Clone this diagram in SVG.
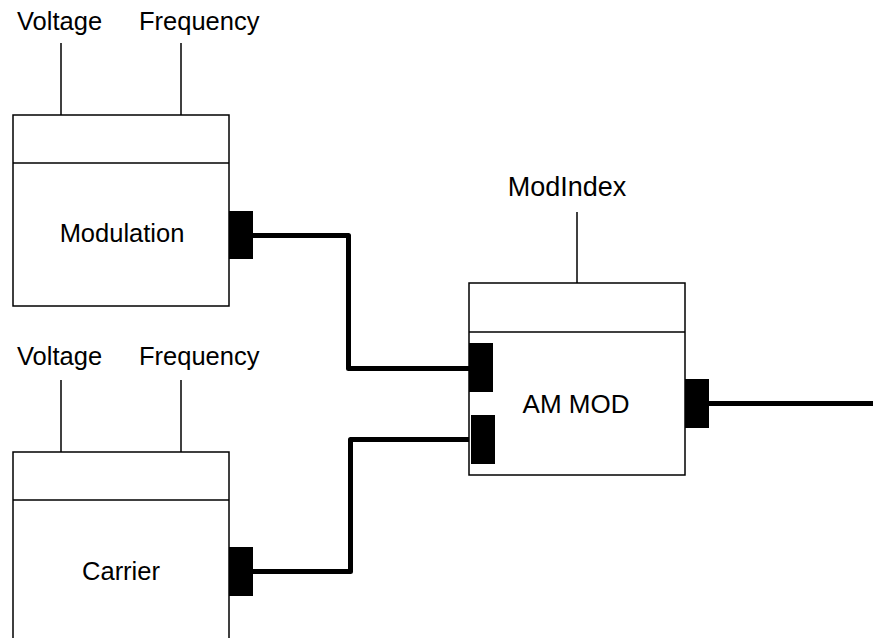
<svg xmlns="http://www.w3.org/2000/svg" width="873" height="638" viewBox="0 0 873 638">
<style>
.box{fill:#fff;stroke:#000;stroke-width:1.5}
.pin{stroke:#000;stroke-width:1.5}
.port{fill:#000}
.wire{fill:none;stroke:#000;stroke-width:5;stroke-linejoin:round}
text{font-family:"Liberation Sans",Arial,sans-serif;font-size:25.5px;fill:#000}
.c{text-anchor:middle}
</style>
<rect width="873" height="638" fill="#fff"/>
<g id="connectors">
<polyline class="wire" points="253,235.5 348.5,235.5 348.5,368.5 469,368.5"/>
<polyline class="wire" points="253,571.5 350.5,571.5 350.5,439.5 471,439.5"/>
<line class="wire" x1="709" y1="403.5" x2="873" y2="403.5"/>
</g>
<g id="modulation">
<line class="pin" x1="61" y1="43" x2="61" y2="115"/>
<line class="pin" x1="181" y1="43" x2="181" y2="115"/>
<text x="17" y="30">Voltage</text>
<text x="139" y="30">Frequency</text>
<rect class="box" x="13" y="115" width="216" height="191"/>
<line class="pin" x1="13" y1="163" x2="229" y2="163"/>
<text class="c" x="122" y="242">Modulation</text>
<rect class="port" x="229" y="211" width="24" height="48"/>
</g>
<g id="carrier">
<line class="pin" x1="61" y1="380" x2="61" y2="452"/>
<line class="pin" x1="181" y1="380" x2="181" y2="452"/>
<text x="17" y="365">Voltage</text>
<text x="139" y="365">Frequency</text>
<rect class="box" x="13" y="452" width="216" height="191"/>
<line class="pin" x1="13" y1="500" x2="229" y2="500"/>
<text class="c" x="121" y="580">Carrier</text>
<rect class="port" x="229" y="547" width="24" height="49"/>
</g>
<g id="ammod">
<line class="pin" x1="577" y1="212" x2="577" y2="283"/>
<text class="c" x="567" y="196" style="font-size:27px">ModIndex</text>
<rect class="box" x="469" y="283" width="216" height="192"/>
<line class="pin" x1="469" y1="332" x2="685" y2="332"/>
<text class="c" x="576" y="413" style="font-size:26px">AM MOD</text>
<rect class="port" x="469" y="343" width="24" height="49"/>
<rect class="port" x="471" y="415" width="24" height="49"/>
<rect class="port" x="685" y="379" width="24" height="49"/>
</g>
</svg>
